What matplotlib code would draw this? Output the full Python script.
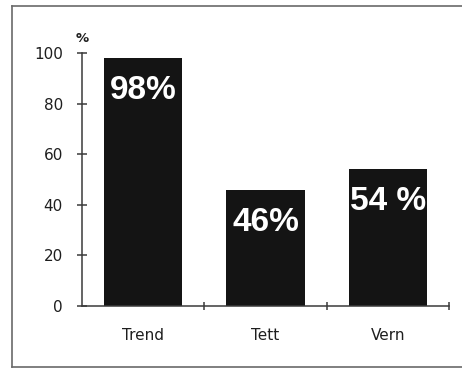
import numpy as np
import matplotlib.pyplot as plt
from matplotlib.lines import Line2D

# ── Daten ───────────────────────────────────────────────────
kategorien = ['Trend', 'Tett', 'Vern']
werte = [98, 46, 54]
beschriftung = ['98%', '46%', '54 %']
y_ticks = [0, 20, 40, 60, 80, 100]

# ── Abbildung ───────────────────────────────────────────────
fig = plt.figure(figsize=(4.62, 3.69), dpi=100)
ax = fig.add_axes([0.1775, 0.1707, 0.7945, 0.6857])

pos = np.arange(len(kategorien)) + 0.5
ax.bar(pos, werte, width=0.64, color='#141414', zorder=2)

for x, w, txt in zip(pos, werte, beschriftung):
    ax.annotate(txt, xy=(x, w), xytext=(0, -29.5),
                textcoords='offset points', ha='center', va='baseline',
                color='white', fontsize=24, fontweight='bold',
                family='Liberation Sans', zorder=3)

ax.set_xlim(0, 3)
ax.set_ylim(0, 100)

# Achsen: nur links und unten
for s in ['top', 'right']:
    ax.spines[s].set_visible(False)
for s in ['left', 'bottom']:
    ax.spines[s].set_color('#3a3a3a')
    ax.spines[s].set_linewidth(1.1)

ax.set_yticks(y_ticks)
ax.tick_params(axis='y', direction='inout', length=7.5, width=1.1,
               color='#3a3a3a', pad=10, labelsize=11, labelcolor='#1e1e1e')

# Striche an den Kategoriegrenzen, Namen in der Mitte
ax.set_xticks([1, 2, 3])
ax.set_xticklabels([])
ax.tick_params(axis='x', which='major', direction='inout', length=6,
               width=1.1, color='#3a3a3a')
ax.set_xticks(pos, minor=True)
ax.set_xticklabels(kategorien, minor=True)
ax.tick_params(axis='x', which='minor', length=0, pad=16,
               labelsize=11, labelcolor='#1e1e1e')

ax.annotate('%', xy=(0, 100), xytext=(0, 5.5), textcoords='offset points',
            ha='center', va='bottom', fontsize=9.5, fontweight='bold',
            color='#1e1e1e', annotation_clip=False)

# Rahmen um die Grafik (rechts offen)
rahmen = dict(color='#6a6a6a', linewidth=1.2, transform=fig.transFigure)
fig.add_artist(Line2D([0.026, 1.0], [0.983, 0.983], **rahmen))
fig.add_artist(Line2D([0.026, 0.026], [0.006, 0.983], **rahmen))
fig.add_artist(Line2D([0.026, 1.0], [0.006, 0.006], **rahmen))

plt.savefig('out.png', dpi=100)
